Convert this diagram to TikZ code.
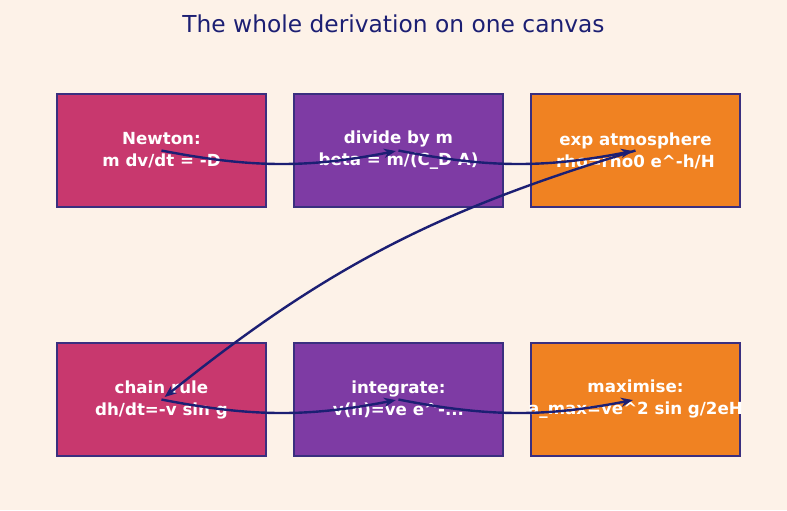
\documentclass[tikz,border=0pt]{standalone}
\usepackage{fontspec}
\setmainfont{DejaVu Sans}
\usepackage{xcolor}
\usetikzlibrary{arrows.meta,positioning}
\definecolor{canvas}{RGB}{253,242,232}
\definecolor{ink}{RGB}{28,31,115}
\definecolor{frame}{RGB}{58,47,127}
\definecolor{rosec}{RGB}{200,56,110}
\definecolor{plumc}{RGB}{126,59,164}
\definecolor{amberc}{RGB}{240,130,34}

\begin{document}
\begin{tikzpicture}[>={Stealth[length=9pt,width=7pt]},
      node distance=102pt and 21pt,
      stepbox/.style={draw=frame,line width=1.1pt,outer sep=0pt,minimum width=156.75pt,minimum height=84.75pt,
        align=center,text=white,font=\fontsize{12.5}{16.5}\selectfont\bfseries},
      flow/.style={->,ink,line width=1.8pt,bend right=11,shorten >=2pt}]
    \fill[canvas] (0,0) rectangle (590.25pt,-382.5pt);
    \useasboundingbox (0,0) rectangle (590.25pt,-382.5pt);
    \node[ink,anchor=base,font=\fontsize{17.5}{20}\selectfont] (title) at (295.1pt,-24.2pt) {The whole derivation on one canvas};
    % top row
    \node[stepbox,fill=rosec] (newton) at (121.1pt,-112.9pt) {Newton:\\m dv/dt = -D};
    \node[stepbox,fill=plumc,right=of newton] (divide) {divide by m\\beta = m/(C\_D A)};
    \node[stepbox,fill=amberc,right=of divide] (expatm) {exp atmosphere\\rho=rho0 e\textasciicircum-h/H};
    % bottom row
    \node[stepbox,fill=rosec,below=of newton] (chain) {chain rule\\dh/dt=-v sin g};
    \node[stepbox,fill=plumc,right=of chain] (integ) {integrate:\\v(h)=ve e\textasciicircum-...};
    \node[stepbox,fill=amberc,right=of integ] (maxim) {maximise:\\\makebox[0pt]{a\_max=ve\textasciicircum2 sin g/2eH}};
    \draw[flow] (newton.center) to (divide.center);
    \draw[flow] (divide.center) to (expatm.center);
    \draw[flow,shorten >=3pt] (expatm.center) to (chain.center);
    \draw[flow] (chain.center) to (integ.center);
    \draw[flow] (integ.center) to (maxim.center);
  \end{tikzpicture}
\end{document}
